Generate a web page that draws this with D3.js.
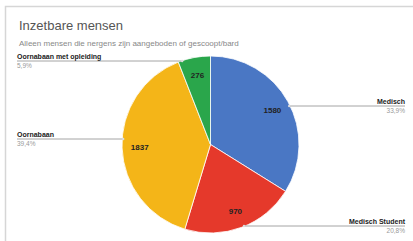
<!DOCTYPE html>
<html>
<head>
<meta charset="utf-8">
<script src="https://cdn.jsdelivr.net/npm/d3@7"></script>
<style>
  html, body { margin: 0; padding: 0; background: #fff; }
  svg { display: block; font-family: Arial, "Liberation Sans", sans-serif; }
</style>
</head>
<body>
<div id="chart"></div>
<script>
// Inzetbare mensen - pie chart

const categories = ['Medisch', 'Medisch Student', 'Oornabaan', 'Oornabaan met opleiding'];
const values = [1580, 970, 1837, 276];
const colors = ['#4a77c4', '#e5392b', '#f4b518', '#2aa64b'];

const W = 413, H = 241;
const cx = 210.5, cy = 144.5, radius = 88.5;

const svg = d3.select('#chart').append('svg')
  .attr('width', W)
  .attr('height', H);

// card frame
svg.append('rect')
  .attr('x', 5.5).attr('y', 6.5)
  .attr('width', W).attr('height', H)
  .attr('fill', '#fff')
  .attr('stroke', '#d6d6d6')
  .attr('stroke-width', 1.5);

svg.append('text')
  .attr('x', 19).attr('y', 30)
  .attr('font-size', '13px')
  .attr('fill', '#555')
  .text('Inzetbare mensen');

svg.append('text')
  .attr('x', 19).attr('y', 46)
  .attr('font-size', '8px')
  .attr('fill', '#888')
  .text('Alleen mensen die nergens zijn aangeboden of gescoopt/bard');

const total = d3.sum(values);
const pctFmt = v => d3.format('.1f')(v / total * 100).replace('.', ',') + '%';

const data = categories.map((c, i) => ({ name: c, value: values[i], color: colors[i] }));

const pie = d3.pie().sort(null).value(d => d.value);
const arcs = pie(data);
const arc = d3.arc().innerRadius(0).outerRadius(radius);
const labelArc = d3.arc().innerRadius(radius * 0.8).outerRadius(radius * 0.8);

const g = svg.append('g').attr('transform', `translate(${cx},${cy})`);

g.selectAll('path')
  .data(arcs)
  .enter().append('path')
  .attr('d', arc)
  .attr('fill', d => d.data.color)
  .attr('stroke', '#fff')
  .attr('stroke-width', 0.8);

g.selectAll('.val')
  .data(arcs)
  .enter().append('text')
  .attr('class', 'val')
  .attr('transform', d => `translate(${labelArc.centroid(d)})`)
  .attr('text-anchor', 'middle')
  .attr('dy', '0.35em')
  .attr('font-size', '8px')
  .attr('font-weight', 'bold')
  .attr('fill', '#222')
  .text(d => d.data.value);

// legend labels with horizontal leader lines to the pie edge
const labelY = [106, 226, 139, 61];
arcs.forEach((d, i) => {
  const mid = (d.startAngle + d.endAngle) / 2;
  const right = Math.sin(mid) > 0;
  const y = labelY[i];
  const dx = Math.sqrt(Math.max(0, radius * radius - (y - cy) * (y - cy)));
  const ex = right ? cx + dx - 1 : cx - dx + 1;
  const xEnd = right ? 405 : 17;

  svg.append('line')
    .attr('x1', xEnd).attr('x2', ex)
    .attr('y1', y).attr('y2', y)
    .attr('stroke', '#9a9a9a')
    .attr('stroke-width', 0.9);

  svg.append('circle')
    .attr('cx', ex).attr('cy', y).attr('r', 1.2)
    .attr('fill', '#ddd');

  svg.append('text')
    .attr('x', xEnd).attr('y', y - 2.5)
    .attr('text-anchor', right ? 'end' : 'start')
    .attr('font-size', '7px')
    .attr('font-weight', 'bold')
    .attr('fill', '#222')
    .text(d.data.name);

  svg.append('text')
    .attr('x', xEnd).attr('y', y + 7)
    .attr('text-anchor', right ? 'end' : 'start')
    .attr('font-size', '6.5px')
    .attr('fill', '#999')
    .text(pctFmt(d.data.value));
});
</script>
</body>
</html>
